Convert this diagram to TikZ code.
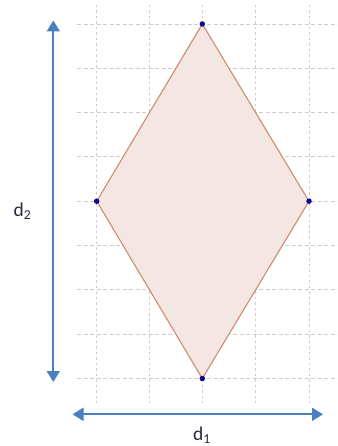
\documentclass[tikz,border=0pt]{standalone}
\usepackage{fontspec}
\setmainfont{Carlito}
\usetikzlibrary{arrows.meta}
\definecolor{gridgray}{RGB}{205,205,205}
\definecolor{rhfill}{RGB}{244,230,226}
\definecolor{rhline}{RGB}{206,140,108}
\definecolor{dimblue}{RGB}{74,128,190}
\definecolor{dotblue}{RGB}{10,10,150}
\definecolor{labeltext}{RGB}{40,40,60}
\begin{document}
\begin{tikzpicture}[x=1pt,y=-1pt,
  hgrid/.style={draw=gridgray,line width=0.9pt,dash pattern=on 4pt off 2.5pt},
  vgrid/.style={draw=gridgray,line width=0.9pt,dash pattern=on 2.5pt off 3pt},
  vertexdot/.style={circle,fill=dotblue,inner sep=0pt,minimum size=5.5pt},
  dimarrow/.style={draw=dimblue,line width=1.8pt,{Triangle[length=11pt,width=13pt]}-{Triangle[length=11pt,width=13pt]}},
  dimlabel/.style={font=\fontsize{19.5}{22}\selectfont,text=labeltext}
]
\useasboundingbox (0,0) rectangle (337,446);
% grid
\foreach \k in {0,...,8}{
  \draw[hgrid] (77,{24+44.31*\k}) -- (337,{24+44.31*\k});
}
\foreach \k in {0,...,4}{
  \draw[vgrid] ({96.7+53.07*\k},5) -- ({96.7+53.07*\k},403);
}
% vertices
\coordinate (T) at (202.3,24);
\coordinate (L) at (96.7,201.2);
\coordinate (R) at (309,201.2);
\coordinate (B) at (202.3,378.5);
\filldraw[fill=rhfill,draw=rhline,line width=1.1pt] (T) -- (R) -- (B) -- (L) -- cycle;
\node[vertexdot] (vt) at (T) {};
\node[vertexdot] (vl) at (L) {};
\node[vertexdot] (vr) at (R) {};
\node[vertexdot] (vb) at (B) {};
% dimension arrows
\coordinate (a1) at (53.3,20.5);
\coordinate (a2) at (53.3,382);
\draw[dimarrow] (a1) -- (a2);
\coordinate (b1) at (72.5,414.3);
\coordinate (b2) at (323,414.3);
\draw[dimarrow] (b1) -- (b2);
% labels
\node[dimlabel,anchor=base] (d2) at (22.5,216) {d\textsubscript{2}};
\node[dimlabel,anchor=base] (d1) at (202,440) {d\textsubscript{1}};
\end{tikzpicture}
\end{document}
